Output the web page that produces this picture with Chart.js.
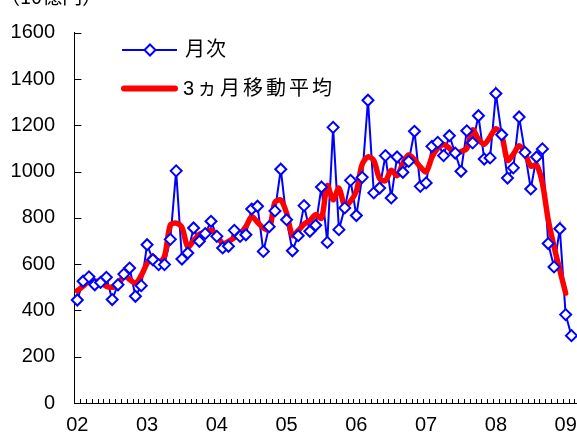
<!DOCTYPE html>
<html>
<head>
<meta charset="utf-8">
<script src="https://cdn.jsdelivr.net/npm/chart.js@4/dist/chart.umd.min.js"></script>
<style>
    html, body { margin: 0; padding: 0; background: #fff; overflow: hidden; }
    #wrap { position: absolute; left: 0; top: -15px; width: 640px; height: 462px; }
</style>
</head>
<body>
<div id="wrap"><canvas id="chart"></canvas></div>
<script>
// ── Datos (10億円), mensual 2002/01 - 2009/02 ─────────────────────
const years = ['02', '03', '04', '05', '06', '07', '08', '09'];
const unitLabel = '（10億円）';
const seriesNames = ['月次', '3ヵ月移動平均'];
const yTicks = [0, 200, 400, 600, 800, 1000, 1200, 1400, 1600];

const monthly = [
    445, 526, 545, 511, 521, 543, 447, 511, 557, 583, 461, 507,      // 02
    684, 619, 598, 598, 707, 1003, 622, 648, 756, 699, 732, 785,     // 03
    720, 670, 677, 746, 720, 727, 838, 850, 655, 762, 830, 1010,     // 04
    792, 658, 723, 853, 742, 768, 933, 694, 1191, 749, 843, 962,     // 05
    810, 975, 1308, 908, 929, 1069, 886, 1063, 997, 1044, 1174, 936, // 06
    951, 1109, 1126, 1069, 1155, 1080, 1001, 1176, 1124, 1241, 1054, 1059, // 07
    1337, 1159, 972, 1016, 1236, 1083, 925, 1063, 1098, 689, 588, 753,    // 08
    382, 291                                                          // 09
];

const movingAvg = [
    485, 505, 527, 526, 525, 504, 500, 505, 550, 534, 517, 551,
    603, 634, 605, 634, 769, 777, 758, 675, 701, 729, 739, 746,
    725, 689, 698, 714, 731, 762, 805, 781, 756, 749, 867, 877,
    820, 724, 745, 773, 788, 814, 798, 939, 878, 928, 851, 872,
    916, 1031, 1064, 1048, 969, 961, 1006, 982, 1035, 1072, 1051, 1020,
    999, 1062, 1101, 1117, 1101, 1079, 1086, 1100, 1180, 1140, 1118, 1150,
    1185, 1156, 1049, 1075, 1112, 1081, 1024, 1029, 950, 792, 677, 574,
    475
];

// categorías: un mes por posición
const categories = [];
years.forEach(y => { for (let m = 1; m <= 12; m++) categories.push(y + '/' + m); });

const BLUE = '#0000ff';
const RED = '#ff0000';
const FONT = "'Liberation Sans', 'Noto Sans CJK JP', sans-serif";

// ── Plugin: marcas de eje hacia dentro, unidad y leyenda ─────────
const decorations = {
    id: 'decorations',
    beforeDatasetsDraw(chart) {
        const ctx = chart.ctx;
        const a = chart.chartArea;
        const xs = chart.scales.x;
        const ys = chart.scales.y;
        ctx.save();
        ctx.strokeStyle = '#000';
        ctx.lineWidth = 1;
        ctx.beginPath();
        ys.ticks.forEach(t => {
            const py = Math.round(ys.getPixelForValue(t.value)) + 0.5;
            ctx.moveTo(a.left, py);
            ctx.lineTo(a.left + 7, py);
        });
        const step = xs.getPixelForValue(1) - xs.getPixelForValue(0);
        for (let i = 0; i <= categories.length; i++) {
            const px = Math.round(xs.getPixelForValue(i) - step / 2) + 0.5;
            ctx.moveTo(px, a.bottom);
            ctx.lineTo(px, a.bottom - 4);
        }
        ctx.stroke();
        ctx.restore();
    },
    afterDraw(chart) {
        const ctx = chart.ctx;
        ctx.save();
        ctx.fillStyle = '#000';
        ctx.font = "20px 'Noto Sans CJK JP', sans-serif";
        ctx.textBaseline = 'middle';
        ctx.fillText(unitLabel, 0, 11);

        // leyenda
        ctx.lineWidth = 2;
        ctx.strokeStyle = BLUE;
        ctx.beginPath();
        ctx.moveTo(122, 65);
        ctx.lineTo(177, 65);
        ctx.stroke();
        ctx.beginPath();
        ctx.moveTo(150, 59.5);
        ctx.lineTo(155.5, 65);
        ctx.lineTo(150, 70.5);
        ctx.lineTo(144.5, 65);
        ctx.closePath();
        ctx.fillStyle = '#fff';
        ctx.fill();
        ctx.stroke();

        ctx.lineWidth = 6;
        ctx.strokeStyle = RED;
        ctx.lineCap = 'round';
        ctx.beginPath();
        ctx.moveTo(124, 103.5);
        ctx.lineTo(175, 103.5);
        ctx.stroke();

        ctx.fillStyle = '#000';
        ctx.font = '20px ' + FONT;
        ctx.letterSpacing = '1px';
        ctx.fillText(seriesNames[0], 185, 65);
        ctx.letterSpacing = '3px';
        ctx.fillText(seriesNames[1], 183, 104);
        ctx.restore();
    }
};

new Chart(document.getElementById('chart').getContext('2d'), {
    type: 'line',
    data: {
        labels: categories,
        datasets: [
            {
                // línea azul (debajo de la media móvil)
                label: seriesNames[0],
                data: monthly,
                borderColor: BLUE,
                borderWidth: 2,
                pointRadius: 0,
                tension: 0,
                order: 3
            },
            {
                label: seriesNames[1],
                data: movingAvg,
                borderColor: RED,
                borderWidth: 5.5,
                pointRadius: 0,
                tension: 0.3,
                borderCapStyle: 'round',
                borderJoinStyle: 'round',
                order: 2
            },
            {
                // marcadores del mensual, encima de todo
                label: seriesNames[0] + ' markers',
                data: monthly,
                showLine: false,
                pointStyle: 'rectRot',
                pointRadius: 5.5,
                pointBorderWidth: 2,
                pointBorderColor: BLUE,
                pointBackgroundColor: '#fff',
                order: 1
            }
        ]
    },
    options: {
        responsive: true,
        maintainAspectRatio: false,
        animation: false,
        layout: { padding: { left: 10.4, top: 47.7, right: 7.3, bottom: 10 } },
        scales: {
            x: {
                offset: true,
                grid: { display: false, drawTicks: false },
                border: { display: true, color: '#000', width: 1 },
                afterFit: s => { s.height = 34; },
                ticks: {
                    autoSkip: false,
                    maxRotation: 0,
                    padding: 10,
                    color: '#000',
                    font: { size: 20, family: FONT },
                    callback: (v, i) => (i % 12 === 0 ? years[i / 12] : '')
                }
            },
            y: {
                min: 0,
                max: 1600,
                afterFit: s => { s.width = 64; },
                afterBuildTicks: s => { s.ticks = yTicks.map(v => ({ value: v })); },
                grid: { display: false, drawTicks: false },
                border: { display: true, color: '#000', width: 1 },
                ticks: {
                    padding: 19.4,
                    color: '#000',
                    font: { size: 20, family: FONT },
                    callback: v => String(v)
                }
            }
        },
        plugins: {
            legend: { display: false },
            tooltip: { enabled: false }
        }
    },
    plugins: [decorations]
});
</script>
</body>
</html>
